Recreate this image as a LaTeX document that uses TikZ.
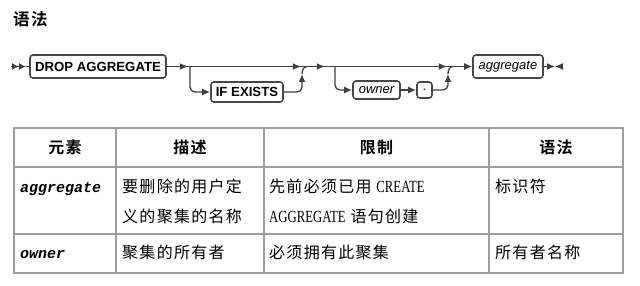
\documentclass[tikz,border=0pt]{standalone}
\usepackage{fontspec}
\usetikzlibrary{arrows.meta,decorations.markings}
\newfontfamily\cjk[LetterSpace=8,BoldFont={Noto Sans CJK SC Bold}]{Noto Sans CJK SC}
\newfontfamily\rrfont{Liberation Sans}
\newfontfamily\codefont{Liberation Mono}
\newfontfamily\nserif[FakeStretch=0.75]{Liberation Serif}
\begin{document}
\begin{tikzpicture}[x=1pt,y=-1pt,
  rrbox/.style={draw=black!72,line width=1.6pt,rounded corners=3pt,inner sep=0pt,
    font=\rrfont\fontsize{13}{15}\selectfont},
  rrline/.style={draw=black!75,line width=1.3pt},
  tip/.style={-{Latex[length=8pt,width=7pt]}},
  grid/.style={draw=black!38,line width=2pt},
  head/.style={font=\cjk\bfseries\fontsize{16}{19}\selectfont,inner sep=0pt},
  body/.style={font=\cjk\fontsize{16}{19}\selectfont,inner sep=0pt,anchor=base west},
  code/.style={font=\codefont\bfseries\itshape\fontsize{15}{17}\selectfont,inner sep=0pt,anchor=base west}]
\useasboundingbox[fill=white] (0,0) rectangle (640,286);

% title
\node[head,font=\cjk\bfseries\fontsize{16.5}{19}\selectfont,anchor=west] (title) at (13,19) {语法};

% railroad boxes
\node[rrbox,minimum width=136pt,minimum height=23pt,font=\rrfont\bfseries\fontsize{13.2}{15}\selectfont] (drop) at (98,66.5) {DROP AGGREGATE};
\node[rrbox,minimum width=72pt,minimum height=20pt,font=\rrfont\bfseries\fontsize{13.2}{15}\selectfont] (ife) at (247,92) {IF EXISTS};
\node[rrbox,minimum width=47pt,minimum height=18pt,font=\rrfont\itshape\fontsize{13}{15}\selectfont] (own) at (376.5,90) {owner};
\node[rrbox,minimum width=15pt,minimum height=16pt] (dot) at (424.5,90) {.};
\node[rrbox,minimum width=70pt,minimum height=23pt,font=\rrfont\itshape\fontsize{13}{15}\selectfont] (agg) at (508,66.5) {aggregate};

\coordinate (start) at (11,66.5);
\coordinate (s1) at (26,66.5);
\coordinate (b1) at (190,66.5);
\coordinate (j1) at (307,66.5);
\coordinate (j1v) at (302,74);
\coordinate (b2) at (335,66.5);
\coordinate (j2) at (453,66.5);
\coordinate (j2v) at (448,74);
\coordinate (endm) at (555,66.5);
\coordinate (endr) at (563,66.5);

% start
\draw[rrline,-{Latex[length=7pt,width=7pt]Latex[length=7pt,width=7pt]}] (start) -- (s1);
\draw[rrline] (s1) -- (drop.west);

% main line
\draw[rrline,tip,postaction={decorate},decoration={markings,
  mark=at position 21pt with {\arrow{Latex[length=8pt,width=7pt]}},
  mark=at position 134pt with {\arrow{Latex[length=8pt,width=7pt]}},
  mark=at position 158pt with {\arrow{Latex[length=8pt,width=7pt]}},
  mark=at position 280pt with {\arrow{Latex[length=8pt,width=7pt]}}}]
  (drop.east) -- (agg.west);

% optional IF EXISTS
\draw[rrline,rounded corners=5pt,tip] (b1) |- (ife.west);
\draw[rrline,rounded corners=5pt,tip] (ife.east) -| (j1v);
\draw[rrline] (j1v) to[out=90,in=180] (j1);

% optional owner .
\draw[rrline,rounded corners=5pt,tip] (b2) |- (own.west);
\draw[rrline,tip] (own.east) -- (dot.west);
\draw[rrline,rounded corners=5pt,tip] (dot.east) -| (j2v);
\draw[rrline] (j2v) to[out=90,in=180] (j2);

% end
\draw[rrline,tip] (agg.east) -- (endm);
\draw[rrline,tip] (endr) -- (endm);

% table grid
\foreach \yy in {128,167,234,273} \draw[grid] (13,\yy) -- (624,\yy);
\foreach \xx in {14,116,264,489,623} \draw[grid] (\xx,127) -- (\xx,274);

% header
\node[head] (h1) at (65,147) {元素};
\node[head] (h2) at (190,147) {描述};
\node[head] (h3) at (376.5,147) {限制};
\node[head] (h4) at (556,147) {语法};

% row 1
\node[code] (r1c1) at (20,193) {aggregate};
\node[body] (r1c2a) at (122,193) {要删除的用户定};
\node[body] (r1c2b) at (122,222) {义的聚集的名称};
\node[body] (r1c3a) at (269,193) {先前必须已用 {\nserif\fontsize{17}{19}\selectfont CREATE}};
\node[body] (r1c3b) at (269,222) {{\nserif\fontsize{17}{19}\selectfont AGGREGATE} 语句创建};
\node[body] (r1c4) at (495,193) {标识符};

% row 2
\node[code] (r2c1) at (20,258) {owner};
\node[body] (r2c2) at (122,258) {聚集的所有者};
\node[body] (r2c3) at (269,258) {必须拥有此聚集};
\node[body] (r2c4) at (495,258) {所有者名称};
\end{tikzpicture}
\end{document}
